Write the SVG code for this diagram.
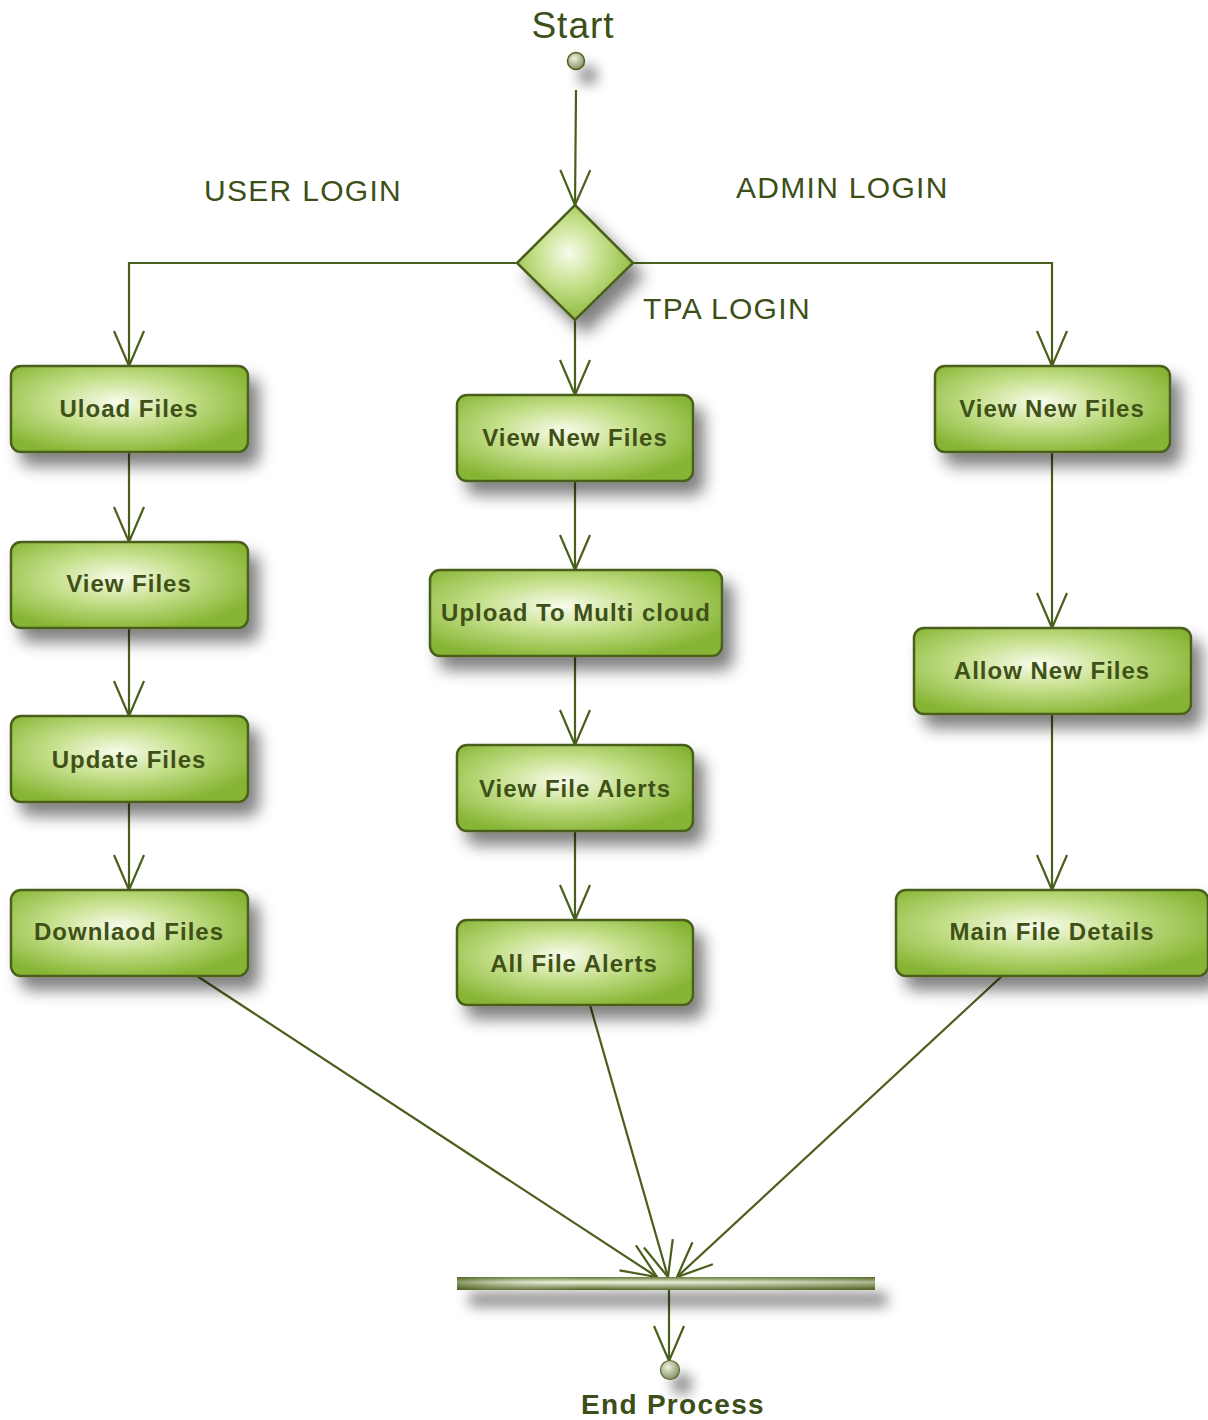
<svg xmlns="http://www.w3.org/2000/svg" width="1208" height="1420" viewBox="0 0 1208 1420">
<defs>
<style>
.node{fill:url(#ng);stroke:#4b5f1c;stroke-width:2.5;filter:url(#sh)}
.nt{font-family:"Liberation Sans",Arial,sans-serif;font-weight:bold;font-size:24px;fill:#3f5117;text-anchor:middle;letter-spacing:1px}
.lbl{font-family:"Liberation Sans",Arial,sans-serif;font-size:30px;fill:#3d4f18;letter-spacing:1.3px}
.edge{fill:none;stroke:#4b5f1c;stroke-width:2.2}
</style>
<radialGradient id="ng" cx="0.45" cy="0.42" r="0.62">
<stop offset="0" stop-color="#f8fcec"/>
<stop offset="0.45" stop-color="#c6e08c"/>
<stop offset="1" stop-color="#86b534"/>
</radialGradient>
<radialGradient id="cg" cx="0.4" cy="0.35" r="0.7">
<stop offset="0" stop-color="#eef2e0"/>
<stop offset="1" stop-color="#7e8c5a"/>
</radialGradient>
<linearGradient id="bg" x1="0" y1="0" x2="0" y2="1">
<stop offset="0" stop-color="#5a6e2a"/>
<stop offset="0.4" stop-color="#eef4dc"/>
<stop offset="1" stop-color="#4b5f1c"/>
</linearGradient>
<linearGradient id="bgh" x1="0" y1="0" x2="1" y2="0">
<stop offset="0" stop-color="#4b5f1c" stop-opacity="0.6"/>
<stop offset="0.3" stop-color="#ffffff" stop-opacity="0"/>
<stop offset="1" stop-color="#4b5f1c" stop-opacity="0.4"/>
</linearGradient>
<filter id="sh" x="-30%" y="-30%" width="170%" height="180%">
<feGaussianBlur in="SourceAlpha" stdDeviation="8"/>
<feOffset dx="10" dy="13" result="b"/>
<feComponentTransfer><feFuncA type="linear" slope="0.5"/></feComponentTransfer>
<feMerge><feMergeNode/><feMergeNode in="SourceGraphic"/></feMerge>
</filter>
<filter id="shc" filterUnits="userSpaceOnUse" x="-100" y="-100" width="1400" height="1600">
<feGaussianBlur in="SourceAlpha" stdDeviation="7"/>
<feOffset dx="12" dy="14" result="b"/>
<feComponentTransfer><feFuncA type="linear" slope="0.5"/></feComponentTransfer>
<feMerge><feMergeNode/><feMergeNode in="SourceGraphic"/></feMerge>
</filter>
<filter id="shb" filterUnits="userSpaceOnUse" x="400" y="1240" width="560" height="120">
<feGaussianBlur in="SourceAlpha" stdDeviation="7"/>
<feOffset dx="12" dy="16" result="b"/>
<feComponentTransfer><feFuncA type="linear" slope="0.5"/></feComponentTransfer>
<feMerge><feMergeNode/><feMergeNode in="SourceGraphic"/></feMerge>
</filter>
<marker id="ar" markerUnits="userSpaceOnUse" markerWidth="40" markerHeight="36" viewBox="-38 -18 40 36" refX="0" refY="0" orient="auto">
<path d="M-35,-15 L0,0 L-35,15" fill="none" stroke="#4b5f1c" stroke-width="2.2"/>
</marker>
</defs>
<rect width="1208" height="1420" fill="#ffffff"/>

<g id="labels">
<text class="lbl" x="573" y="38" text-anchor="middle" style="font-size:37px;letter-spacing:1px">Start</text>
<text class="lbl" x="204" y="201">USER LOGIN</text>
<text class="lbl" x="736" y="198">ADMIN LOGIN</text>
<text class="lbl" x="643" y="319">TPA LOGIN</text>
</g>

<g id="connectors">
<path class="edge" d="M576,90 L575,205" marker-end="url(#ar)"/>
<path class="edge" d="M517,263 L129,263 L129,366" marker-end="url(#ar)"/>
<path class="edge" d="M633,263 L1052,263 L1052,366" marker-end="url(#ar)"/>
<path class="edge" d="M575,320 L575,395" marker-end="url(#ar)"/>
<path class="edge" d="M129,452 L129,542" marker-end="url(#ar)"/>
<path class="edge" d="M129,628 L129,716" marker-end="url(#ar)"/>
<path class="edge" d="M129,802 L129,890" marker-end="url(#ar)"/>
<path class="edge" d="M575,481 L575,570" marker-end="url(#ar)"/>
<path class="edge" d="M575,656 L575,745" marker-end="url(#ar)"/>
<path class="edge" d="M575,831 L575,920" marker-end="url(#ar)"/>
<path class="edge" d="M1052,452 L1052,628" marker-end="url(#ar)"/>
<path class="edge" d="M1052,714 L1052,890" marker-end="url(#ar)"/>
<path class="edge" d="M197,976 L657,1277" marker-end="url(#ar)"/>
<path class="edge" d="M590,1005 L668,1277" marker-end="url(#ar)"/>
<path class="edge" d="M1002,976 L677,1277" marker-end="url(#ar)"/>
<path class="edge" d="M669,1290 L669,1361" marker-end="url(#ar)"/>
</g>

<g id="start">
<circle cx="576" cy="61" r="8.5" fill="url(#cg)" stroke="#4b5f1c" stroke-width="1.5" filter="url(#shc)"/>
</g>

<g id="decision">
<path d="M575,205 L633,263 L575,320 L517,263 Z" fill="url(#ng)" stroke="#4b5f1c" stroke-width="2.5" filter="url(#sh)"/>
</g>

<g id="n-uload"><rect class="node" x="11" y="366" width="237" height="86" rx="10"/><text class="nt" x="129" y="417">Uload Files</text></g>
<g id="n-viewfiles"><rect class="node" x="11" y="542" width="237" height="86" rx="10"/><text class="nt" x="129" y="592">View Files</text></g>
<g id="n-update"><rect class="node" x="11" y="716" width="237" height="86" rx="10"/><text class="nt" x="129" y="768">Update Files</text></g>
<g id="n-download"><rect class="node" x="11" y="890" width="237" height="86" rx="10"/><text class="nt" x="129" y="940">Downlaod Files</text></g>

<g id="n-tpaview"><rect class="node" x="457" y="395" width="236" height="86" rx="10"/><text class="nt" x="575" y="446">View New Files</text></g>
<g id="n-upload"><rect class="node" x="430" y="570" width="292" height="86" rx="10"/><text class="nt" x="576" y="621">Upload To Multi cloud</text></g>
<g id="n-alerts"><rect class="node" x="457" y="745" width="236" height="86" rx="10"/><text class="nt" x="575" y="797">View File Alerts</text></g>
<g id="n-allalerts"><rect class="node" x="457" y="920" width="236" height="85" rx="10"/><text class="nt" x="574" y="972">All File Alerts</text></g>

<g id="n-adminview"><rect class="node" x="935" y="366" width="235" height="86" rx="10"/><text class="nt" x="1052" y="417">View New Files</text></g>
<g id="n-allow"><rect class="node" x="914" y="628" width="277" height="86" rx="10"/><text class="nt" x="1052" y="679">Allow New Files</text></g>
<g id="n-main"><rect class="node" x="896" y="890" width="312" height="86" rx="10"/><text class="nt" x="1052" y="940">Main File Details</text></g>

<g id="join">
<rect x="457" y="1277" width="418" height="13" fill="url(#bg)" filter="url(#shb)"/>
<rect x="457" y="1277" width="418" height="13" fill="url(#bgh)"/>
</g>

<g id="end">
<circle cx="670" cy="1370" r="9.5" fill="url(#cg)" stroke="#5a6a3a" stroke-width="1.2" filter="url(#shc)"/>
<text x="673" y="1414" text-anchor="middle" style="font-family:'Liberation Sans',Arial,sans-serif;font-weight:bold;font-size:28px;fill:#3d4f18;letter-spacing:1.3px">End Process</text>
</g>
</svg>
